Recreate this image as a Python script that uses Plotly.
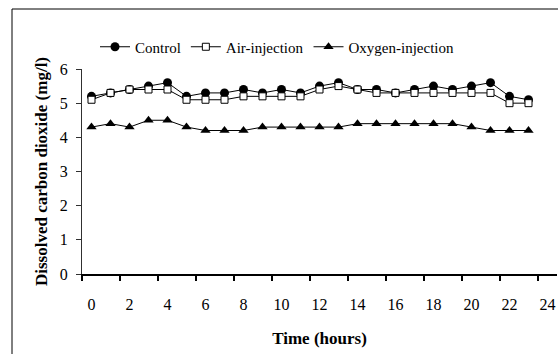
import plotly.graph_objects as go

hours = list(range(24))
control = [5.2, 5.3, 5.4, 5.5, 5.6, 5.2, 5.3, 5.3, 5.4, 5.3, 5.4, 5.3,
           5.5, 5.6, 5.4, 5.4, 5.3, 5.4, 5.5, 5.4, 5.5, 5.6, 5.2, 5.1]
air = [5.1, 5.3, 5.4, 5.4, 5.4, 5.1, 5.1, 5.1, 5.2, 5.2, 5.2, 5.2,
       5.4, 5.5, 5.4, 5.3, 5.3, 5.3, 5.3, 5.3, 5.3, 5.3, 5.0, 5.0]
oxygen = [4.3, 4.4, 4.3, 4.5, 4.5, 4.3, 4.2, 4.2, 4.2, 4.3, 4.3, 4.3,
          4.3, 4.3, 4.4, 4.4, 4.4, 4.4, 4.4, 4.4, 4.3, 4.2, 4.2, 4.2]
x_tick_labels = [str(v) for v in range(0, 25, 2)]
x_label_pos = list(range(0, 25, 2))
x_tick_marks = [v - 0.5 for v in range(0, 25, 2)]
y_ticks = [0, 1, 2, 3, 4, 5, 6]

W, H = 558, 354
ML, MR, MT, MB = 82, 1, 69, 80
pw = W - ML - MR
ph = H - MT - MB

def px2paper_x(px):
    return (px - ML) / pw

def px2paper_y(py):
    return (H - MB - py) / ph

SERIF = "Liberation Serif, Times New Roman, serif"

fig = go.Figure()
fig.add_trace(go.Scatter(x=hours, y=control, name="Control", mode="lines+markers",
                         line=dict(color="black", width=1),
                         marker=dict(symbol="circle", size=9, color="black")))
fig.add_trace(go.Scatter(x=hours, y=air, name="Air-injection", mode="lines+markers",
                         line=dict(color="black", width=1),
                         marker=dict(symbol="square", size=7, color="white",
                                     line=dict(color="black", width=1))))
fig.add_trace(go.Scatter(x=hours, y=oxygen, name="Oxygen-injection", mode="lines+markers",
                         line=dict(color="black", width=1),
                         marker=dict(symbol="triangle-up", size=9, color="black")))
fig.add_trace(go.Scatter(x=[], y=[], xaxis="x2", showlegend=False, hoverinfo="skip"))

fig.update_layout(
    width=W, height=H,
    margin=dict(l=ML, r=MR, t=MT, b=MB, autoexpand=False),
    paper_bgcolor="white", plot_bgcolor="white",
    font=dict(family=SERIF, color="black", size=15),
    xaxis=dict(range=[-0.5, 24.5], tickmode="array", tickvals=x_tick_marks,
               showticklabels=False, ticks="outside", ticklen=5, tickwidth=2,
               tickcolor="black", showline=True, linecolor="black", linewidth=2,
               showgrid=False, zeroline=False, automargin=False,
               title=dict(text="<b>Time (hours)</b>", font=dict(size=17, family=SERIF), standoff=52)),
    xaxis2=dict(overlaying="x", anchor="y", side="bottom", range=[-0.5, 24.5],
                tickmode="array", tickvals=x_label_pos, ticktext=x_tick_labels,
                ticks="outside", ticklen=16, tickcolor="rgba(0,0,0,0)",
                showline=False, showgrid=False, zeroline=False, automargin=False,
                tickfont=dict(size=16, family=SERIF)),
    yaxis=dict(range=[0, 6], tickmode="array", tickvals=y_ticks,
               ticks="outside", ticklen=5, tickwidth=1, tickcolor="#303030",
               showline=True, linecolor="#303030", linewidth=1,
               showgrid=False, zeroline=False, automargin=False,
               ticklabelstandoff=5,
               tickfont=dict(size=16, family=SERIF),
               title=dict(text="<b>Dissolved carbon dioxide (mg/l)</b>",
                          font=dict(size=17, family=SERIF), standoff=7)),
    legend=dict(orientation="h", x=px2paper_x(95), y=px2paper_y(47),
                xanchor="left", yanchor="middle", font=dict(size=15, family=SERIF),
                bgcolor="rgba(0,0,0,0)", itemwidth=30, tracegroupgap=0),
    showlegend=True,
    shapes=[dict(type="rect", xref="paper", yref="paper",
                 x0=px2paper_x(12), x1=px2paper_x(600),
                 y0=px2paper_y(400), y1=px2paper_y(9),
                 line=dict(color="black", width=1), fillcolor="rgba(0,0,0,0)")],
)

fig.write_html("out.html", config={"displayModeBar": False},
               post_script="document.body.style.margin='0';document.body.style.overflow='hidden';")
